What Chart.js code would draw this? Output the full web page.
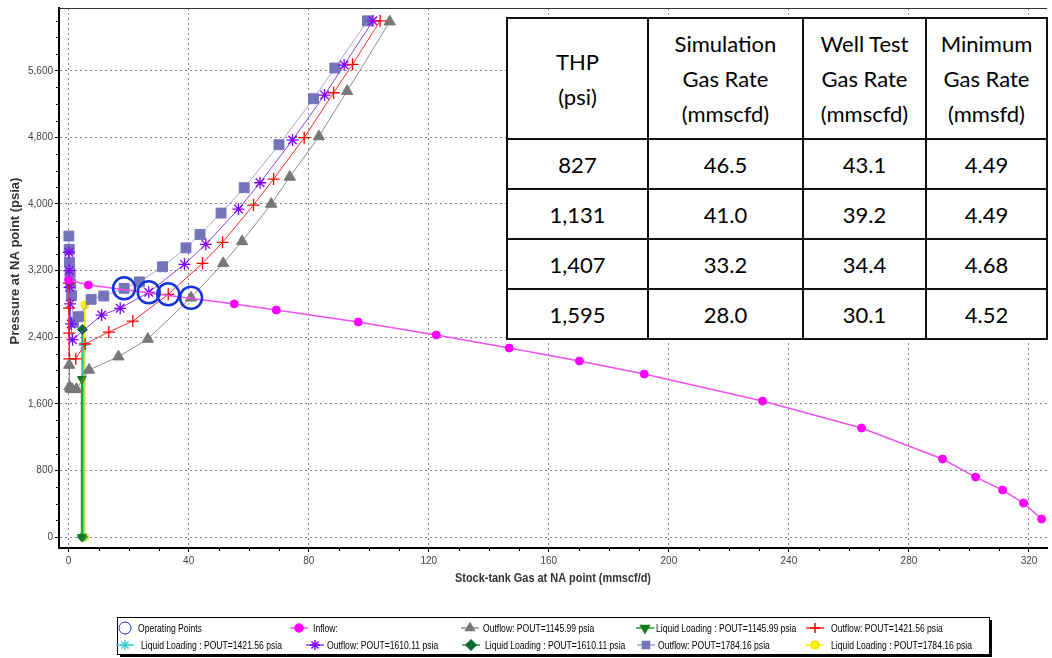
<!DOCTYPE html>
<html>
<head>
<meta charset="utf-8">
<script src="https://cdn.jsdelivr.net/npm/chart.js@4.4.0/dist/chart.umd.min.js"></script>
<style>
  html, body { margin: 0; padding: 0; background: #fff; }
  #wrap { position: relative; width: 1052px; height: 658px; overflow: hidden; }
  #chart { position: absolute; left: 0; top: 0; }
  #rates { position: absolute; left: 506px; top: 17px; border-collapse: collapse; table-layout: fixed;
           background: #fff; font-family: Lato, "Open Sans", sans-serif; font-size: 22px; color: #000; }
  #rates td { border: 2px solid #111; text-align: center; padding: 0; line-height: 35px; }
</style>
</head>
<body>
<div id="wrap">
  <canvas id="chart" width="1052" height="658"></canvas>
  <table id="rates">
    <colgroup><col style="width:141px"><col style="width:155px"><col style="width:123px"><col style="width:121px"></colgroup>
    <tbody id="ratesBody"></tbody>
  </table>
</div>
<script>
// axis ticks
const xTicks = [0, 40, 80, 120, 160, 200, 240, 280, 320];
const yTicks = [0, 800, 1600, 2400, 3200, 4000, 4800, 5600];

// operating points
const opX = [18.5, 26.7, 33.2, 40.8];
const opY = [2987, 2939, 2915, 2874];

// inflow (IPR)
const inflowX = [0, 6.6, 55.2, 69.2, 96.5, 122.5, 146.8, 170.2, 191.8, 231.2, 264.2, 291.2, 302.2, 311.2, 318.2, 324.2];
const inflowY = [3087, 3027, 2800, 2726, 2582, 2426, 2270, 2114, 1957, 1633, 1309, 937, 720, 564, 408, 216];

// outflow curves, one per POUT
const out1146X = [0.2, 0.3, 0.6, 1.2, 2.6, 6.8, 16.6, 26.4, 40.8, 51.5, 57.8, 67.5, 73.7, 83.4, 92.8, 107.0];
const out1146Y = [2066, 1806, 1780, 1774, 1774, 2006, 2166, 2378, 2874, 3287, 3550, 4000, 4325, 4810, 5355, 6190];

const out1422X = [0.1, 0.15, 0.2, 0.3, 2.4, 5.5, 13.4, 21.4, 33.2, 44.6, 51.3, 61.6, 68.3, 78.5, 88.3, 94.6, 103.8];
const out1422Y = [3050, 2750, 2450, 2140, 2140, 2318, 2462, 2594, 2915, 3287, 3539, 3987, 4299, 4796, 5336, 5677, 6200];

const out1610X = [0.1, 0.2, 0.3, 0.5, 0.8, 1.3, 11.0, 17.2, 26.7, 38.6, 45.7, 56.6, 63.8, 74.6, 85.3, 91.8, 101.4];
const out1610Y = [3420, 3200, 3000, 2800, 2560, 2370, 2666, 2747, 2939, 3275, 3515, 3939, 4255, 4768, 5308, 5669, 6200];

const out1784X = [0.1, 0.2, 0.3, 0.5, 0.7, 1.0, 1.6, 3.3, 7.5, 11.7, 18.5, 23.6, 31.3, 39.1, 43.8, 50.8, 58.5, 70.1, 81.6, 88.7, 99.6];
const out1784Y = [3615, 3455, 3300, 3170, 3040, 2900, 2580, 2646, 2855, 2895, 2987, 3064, 3246, 3473, 3635, 3891, 4195, 4712, 5264, 5633, 6200];

// liquid loading limits (vertical lines)
const ll1146X = [4.4, 4.4],  ll1146Y = [0, 1898];
const ll1422X = [4.9, 4.9],  ll1422Y = [0, 2300];
const ll1610X = [4.6, 4.6],  ll1610Y = [0, 2494];
const ll1784X = [5.4, 5.4],  ll1784Y = [0, 2786];

// table
const tableHead = [['THP', '(psi)'], ['Simulation', 'Gas Rate', '(mmscfd)'], ['Well Test', 'Gas Rate', '(mmscfd)'], ['Minimum', 'Gas Rate', '(mmsfd)']];
const thp = ['827', '1,131', '1,407', '1,595'];
const simRate = ['46.5', '41.0', '33.2', '28.0'];
const testRate = ['43.1', '39.2', '34.4', '30.1'];
const minRate = ['4.49', '4.49', '4.68', '4.52'];

// build the table
const body = document.getElementById('ratesBody');
const head = document.createElement('tr');
head.style.height = '121px';
tableHead.forEach(lines => {
    const td = document.createElement('td');
    td.innerHTML = lines.join('<br>');
    head.appendChild(td);
});
body.appendChild(head);
thp.forEach((t, i) => {
    const tr = document.createElement('tr');
    tr.style.height = '50px';
    [t, simRate[i], testRate[i], minRate[i]].forEach(v => {
        const td = document.createElement('td');
        td.textContent = v;
        tr.appendChild(td);
    });
    body.appendChild(tr);
});

const pts = (xs, ys) => xs.map((x, i) => ({ x, y: ys[i] }));

function series(label, xs, ys, style) {
    return Object.assign({
        label, data: pts(xs, ys), showLine: true, tension: 0,
        borderWidth: 1, pointBorderWidth: 1
    }, style);
}

const datasets = [
    series('Operating Points', opX, opY, { showLine: false, pointStyle: 'circle', pointRadius: 11, pointBorderWidth: 2.5,
        borderColor: '#1533d6', backgroundColor: 'rgba(0,0,0,0)' }),
    series('Inflow:', inflowX, inflowY, { borderColor: '#f050f0', backgroundColor: '#ff00ff', pointBorderColor: '#ff00ff',
        pointStyle: 'circle', pointRadius: 4, borderWidth: 1.5 }),
    series('Outflow: POUT=1145.99 psia', out1146X, out1146Y, { borderColor: '#8c8c8c', backgroundColor: '#777',
        pointBorderColor: '#777', pointStyle: 'triangle', pointRadius: 6.5 }),
    series('Liquid Loading : POUT=1145.99 psia', ll1146X, ll1146Y, { borderColor: '#1f9e2e', backgroundColor: '#157a1a',
        pointBorderColor: '#157a1a', pointStyle: 'triangle', pointRotation: 180, pointRadius: 5, borderWidth: 2 }),
    series('Outflow: POUT=1421.56 psia', out1422X, out1422Y, { borderColor: '#ff2a2a', backgroundColor: '#ff0000',
        pointBorderColor: '#ff0000', pointStyle: 'cross', pointRadius: 6, pointBorderWidth: 1.3 }),
    series('Liquid Loading : POUT=1421.56 psia', ll1422X, ll1422Y, { borderColor: '#40d0d0', backgroundColor: '#40d0d0',
        pointBorderColor: '#40d0d0', pointStyle: 'star', pointRadius: 5, borderWidth: 2 }),
    series('Outflow: POUT=1610.11 psia', out1610X, out1610Y, { borderColor: '#9040f0', backgroundColor: '#8000ff',
        pointBorderColor: '#8000ff', pointStyle: 'star', pointRadius: 6, pointBorderWidth: 1.3 }),
    series('Liquid Loading : POUT=1610.11 psia', ll1610X, ll1610Y, { borderColor: '#27a048', backgroundColor: '#0b6b33',
        pointBorderColor: '#0b6b33', pointStyle: 'rectRot', pointRadius: 5, borderWidth: 2 }),
    series('Outflow: POUT=1784.16 psia', out1784X, out1784Y, { borderColor: '#a4a4da', backgroundColor: '#7474bb',
        pointBorderColor: '#7474bb', pointStyle: 'rect', pointRadius: 7 }),
    series('Liquid Loading : POUT=1784.16 psia', ll1784X, ll1784Y, { borderColor: '#ffee00', backgroundColor: '#ffee00',
        pointBorderColor: '#f5e000', pointStyle: 'circle', pointRadius: 4, borderWidth: 2 })
];

// legend slots: [marker centre, text start] per item, two rows of five
const legendSlots = [
    [125, 138], [299, 313], [470, 483], [645, 656], [815, 831],
    [125, 141], [315, 327], [471, 485], [646, 658], [815, 831]
];

const sans = '"Liberation Sans", Arial, sans-serif';

// text squeezed horizontally to look like a narrow face
function narrowText(ctx, text, x, y, scaleX) {
    ctx.save();
    ctx.translate(x, y);
    ctx.scale(scaleX, 1);
    ctx.fillText(text, 0, 0);
    ctx.restore();
}

const decor = {
    id: 'decor',
    afterDraw(chart) {
        const { ctx, chartArea: a, scales: { x, y } } = chart;
        ctx.save();

        // minor ticks
        ctx.strokeStyle = '#000';
        ctx.lineWidth = 1;
        ctx.beginPath();
        for (let v = 0; v <= 320; v += 10) {
            if (v % 40 === 0) continue;
            const px = Math.round(x.getPixelForValue(v)) + 0.5;
            ctx.moveTo(px, a.bottom);
            ctx.lineTo(px, a.bottom + 3);
        }
        for (let v = 200; v <= 6200; v += 200) {
            if (v % 800 === 0) continue;
            const py = Math.round(y.getPixelForValue(v)) + 0.5;
            ctx.moveTo(a.left, py);
            ctx.lineTo(a.left - 3, py);
        }
        ctx.stroke();

        // top frame line
        ctx.strokeStyle = '#333';
        ctx.beginPath();
        ctx.moveTo(a.left, a.top + 0.5);
        ctx.lineTo(a.right, a.top + 0.5);
        ctx.stroke();

        // axis titles
        ctx.fillStyle = '#333';
        ctx.textBaseline = 'middle';
        ctx.textAlign = 'center';
        ctx.font = 'bold 13px ' + sans;
        narrowText(ctx, 'Stock-tank Gas at NA point (mmscf/d)', (a.left + a.right) / 2, 578, 0.84);

        ctx.save();
        ctx.translate(15, 261);
        ctx.rotate(-Math.PI / 2);
        ctx.fillText('Pressure at NA point (psia)', 0, 0);
        ctx.restore();

        // legend box with shadow
        const bx = 117, by = 617, bw = 872, bh = 37;
        ctx.fillStyle = '#000';
        ctx.fillRect(bx + 3, by + 3, bw, bh);
        ctx.fillStyle = '#fff';
        ctx.fillRect(bx, by, bw, bh);
        ctx.strokeStyle = '#000';
        ctx.lineWidth = 1;
        ctx.strokeRect(bx + 0.5, by + 0.5, bw, bh);

        ctx.font = '11px ' + sans;
        ctx.textAlign = 'left';
        chart.data.datasets.forEach((ds, i) => {
            const [mx, tx] = legendSlots[i];
            const ly = i < 5 ? 628 : 645;
            if (ds.showLine !== false) {
                ctx.strokeStyle = ds.borderColor;
                ctx.lineWidth = 1.5;
                ctx.beginPath();
                ctx.moveTo(mx - 9, ly);
                ctx.lineTo(mx + 9, ly);
                ctx.stroke();
            }
            ctx.fillStyle = ds.backgroundColor;
            ctx.strokeStyle = ds.pointBorderColor || ds.borderColor;
            Chart.helpers.drawPoint(ctx, {
                pointStyle: ds.pointStyle,
                radius: ds.showLine === false ? 6 : Math.min(ds.pointRadius, 5),
                rotation: ds.pointRotation || 0,
                borderWidth: ds.showLine === false ? 2.5 : 1
            }, mx, ly);
            ctx.fillStyle = '#000';
            narrowText(ctx, ds.label, tx, ly + 0.5, 0.78);
        });
        ctx.restore();
    }
};

new Chart(document.getElementById('chart'), {
    type: 'scatter',
    data: { datasets },
    options: {
        responsive: false,
        animation: false,
        layout: { autoPadding: false, padding: { left: 0, right: 5, top: 8, bottom: 65 } },
        plugins: { legend: { display: false }, tooltip: { enabled: false } },
        scales: {
            x: {
                type: 'linear', min: -3.2, max: 326,
                afterBuildTicks: s => { s.ticks = xTicks.map(v => ({ value: v })); },
                afterFit: s => { s.height = 45; },
                grid: { color: '#8a8a8a', lineWidth: 1, tickLength: 4, tickColor: '#000', tickWidth: 1 },
                border: { display: true, color: '#000', width: 2, dash: [2, 3] },
                ticks: { color: '#444', padding: 3, maxRotation: 0, font: { family: sans, size: 10 } }
            },
            y: {
                type: 'linear', min: -132, max: 6354,
                afterBuildTicks: s => { s.ticks = yTicks.map(v => ({ value: v })); },
                afterFit: s => { s.width = 59; },
                grid: { color: '#8a8a8a', lineWidth: 1, tickLength: 4, tickColor: '#000', tickWidth: 1 },
                border: { display: true, color: '#000', width: 2, dash: [2, 3] },
                ticks: { color: '#444', padding: 2, font: { family: sans, size: 10 },
                         callback: v => v.toLocaleString('en-US') }
            }
        }
    },
    plugins: [decor]
});
</script>
</body>
</html>
